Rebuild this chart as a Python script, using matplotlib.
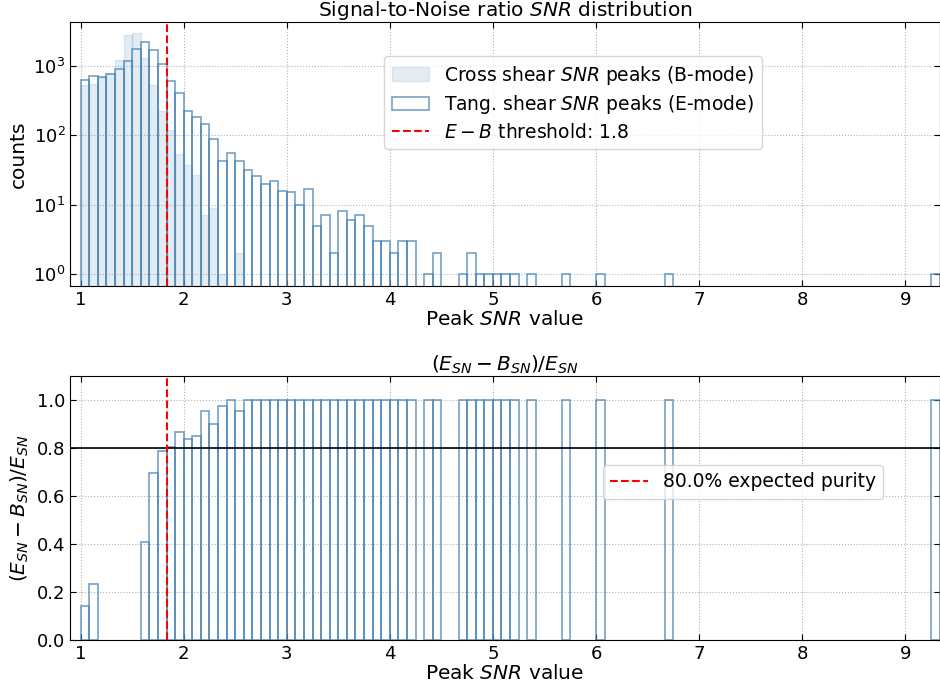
import numpy as np
import matplotlib
matplotlib.use('Agg')
import matplotlib.pyplot as plt
from matplotlib.ticker import NullLocator, LogLocator

# peak counts per SNR bin (100 bins between 1.0 and 9.333)
snr_min = 1.0
snr_max = 9.333
n_bins = 100

tang_counts = [630, 719, 687, 760, 898, 1171, 1779, 2227, 1726, 1059,
               615, 404, 227, 182, 147, 89, 43, 55, 42, 32,
               26, 20, 22, 16, 15, 10, 17, 5, 7, 2,
               8, 6, 7, 5, 3, 3, 2, 3, 3, 0,
               1, 2, 0, 0, 1, 2, 1, 1, 1, 1,
               1, 0, 1, 0, 0, 0, 1, 0, 0, 0,
               1, 0, 0, 0, 0, 0, 0, 0, 1, 0,
               0, 0, 0, 0, 0, 0, 0, 0, 0, 0,
               0, 0, 0, 0, 0, 0, 0, 0, 0, 0,
               0, 0, 0, 0, 0, 0, 0, 0, 0, 1]

cross_counts = [541, 550, 700, 803, 1224, 2810, 2973, 1321, 527, 224,
                120, 54, 37, 27, 7, 9, 1, 0, 2] + [0] * 81

threshold = 1.8333
purity = 0.8

edges = np.linspace(snr_min, snr_max, n_bins + 1)
width = edges[1] - edges[0]
E = np.array(tang_counts, dtype=float)
B = np.array(cross_counts, dtype=float)

col = 'steelblue'

plt.rcParams['font.size'] = 13
plt.rcParams['xtick.direction'] = 'in'
plt.rcParams['ytick.direction'] = 'in'
plt.rcParams['xtick.top'] = True
plt.rcParams['ytick.right'] = True
plt.rcParams['xtick.major.size'] = 4
plt.rcParams['ytick.major.size'] = 4

fig = plt.figure(figsize=(9.4, 6.93), dpi=100)
ax1 = fig.add_axes([0.0748, 0.5873, 0.9247, 0.381])
ax2 = fig.add_axes([0.0748, 0.0765, 0.9247, 0.381])

# top: histograms of peaks
h_b = ax1.bar(edges[:-1], B, width=width, align='edge', color=col, alpha=0.15,
              edgecolor=col, linewidth=1, label='Cross shear $SNR$ peaks (B-mode)')
h_e = ax1.bar(edges[:-1], E, width=width, align='edge', fill=False,
              edgecolor=col, alpha=0.75, linewidth=1.2,
              label='Tang. shear $SNR$ peaks (E-mode)')
h_t = ax1.axvline(threshold, color='red', ls='--', lw=1.5,
                  label='$E-B$ threshold: %.1f' % threshold)
ax1.set_yscale('log')
ax1.set_ylim(0.67, 4330)
ax1.set_xlim(0.9, snr_max)
ax1.yaxis.set_major_locator(LogLocator(base=10, numticks=10))
ax1.yaxis.set_minor_locator(NullLocator())
ax1.grid(True, color='gray', ls=':', lw=0.8, alpha=0.6)
ax1.set_axisbelow(True)
ax1.set_title('Signal-to-Noise ratio $SNR$ distribution', fontsize=14.5, pad=3)
ax1.set_xlabel('Peak $SNR$ value', fontsize=14.5, labelpad=1)
ax1.set_ylabel('counts', fontsize=14.5)
ax1.legend(handles=[h_b, h_e, h_t], loc='upper left', bbox_to_anchor=(0.361, 0.871),
           borderaxespad=0, fontsize=13.5, labelspacing=0.35)

# bottom: fraction of E-mode peaks surviving the B-mode subtraction
frac = np.full(n_bins, np.nan)
ok = E > 0
frac[ok] = (E[ok] - B[ok]) / E[ok]
keep = ok & (frac > 0)
ax2.bar(edges[:-1][keep], frac[keep], width=width, align='edge', fill=False,
        edgecolor=col, alpha=0.75, linewidth=1.2)
ax2.axhline(purity, color='black', lw=1.2)
ax2.axvline(threshold, color='red', ls='--', lw=1.5,
            label='%.1f%% expected purity' % (purity * 100))
ax2.set_ylim(0, 1.1)
ax2.set_xlim(0.9, snr_max)
ax2.grid(True, color='gray', ls=':', lw=0.8, alpha=0.6)
ax2.set_axisbelow(True)
ax2.set_title('$(E_{SN}-B_{SN})/E_{SN}$', fontsize=14.5, pad=3)
ax2.set_xlabel('Peak $SNR$ value', fontsize=14.5, labelpad=1)
ax2.set_ylabel('$(E_{SN}-B_{SN})/E_{SN}$', fontsize=14.5)
ax2.legend(loc='upper left', bbox_to_anchor=(0.6125, 0.663),
           borderaxespad=0, fontsize=13.5)

plt.savefig('out.png', dpi=100)
